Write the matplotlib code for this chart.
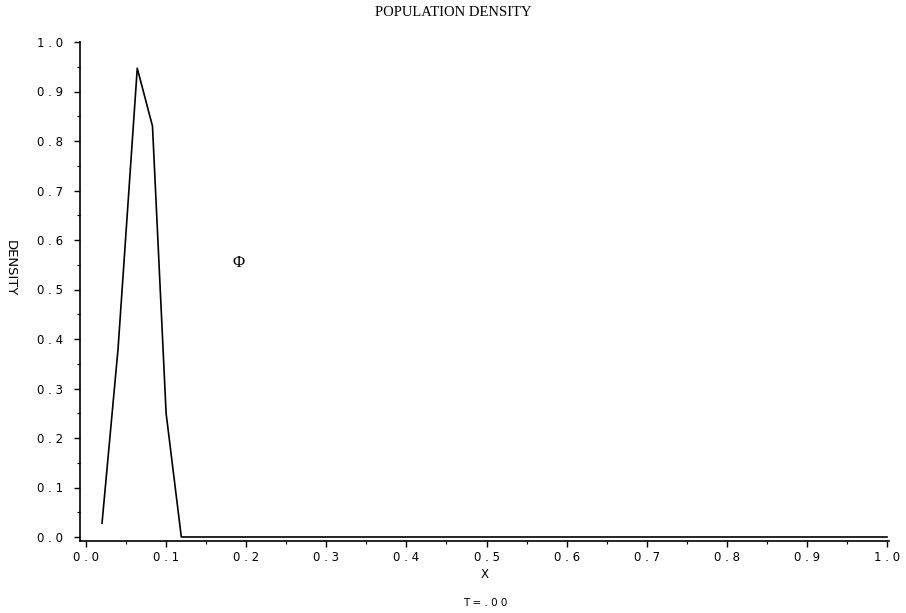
import matplotlib
matplotlib.use("Agg")
import matplotlib.pyplot as plt
from matplotlib.ticker import MultipleLocator

x_vals = [0.02, 0.04, 0.064, 0.083, 0.10, 0.119, 1.0]
density = [0.028, 0.38, 0.947, 0.83, 0.25, 0.0, 0.0]
x_ticks = [0.0, 0.1, 0.2, 0.3, 0.4, 0.5, 0.6, 0.7, 0.8, 0.9, 1.0]
y_ticks = [0.0, 0.1, 0.2, 0.3, 0.4, 0.5, 0.6, 0.7, 0.8, 0.9, 1.0]

def spaced(v):
    return " . ".join(f"{v:.1f}".split("."))

fig = plt.figure(figsize=(9.06, 6.13), dpi=100)
ax = fig.add_axes([80/906, (613-541)/613, (889-80)/906, (541-42)/613])
ax.plot(x_vals, density, color="black", lw=1.2)

ax.set_xlim(-6/801, 1 + 2/801)
ax.set_ylim(-4/495, 1.0)
for s in ["top", "right"]:
    ax.spines[s].set_visible(False)
for s in ["left", "bottom"]:
    ax.spines[s].set_linewidth(1.2)

ax.set_xticks(x_ticks)
ax.set_xticklabels([spaced(v) for v in x_ticks])
ax.set_yticks(y_ticks)
ax.set_yticklabels([spaced(v) for v in y_ticks])
ax.xaxis.set_minor_locator(MultipleLocator(0.05))
ax.yaxis.set_minor_locator(MultipleLocator(0.05))
ax.tick_params(which="major", direction="out", length=4, width=1, labelsize=8.5)
ax.tick_params(axis="x", which="major", pad=3)
ax.tick_params(axis="y", which="major", pad=8)
ax.tick_params(which="minor", direction="out", length=2.5, width=0.8)
for lab in ax.get_xticklabels() + ax.get_yticklabels():
    lab.set_family("DejaVu Sans")

fig.text(453/906, 1 - 12/613, "POPULATION DENSITY", ha="center", va="center",
         family="Liberation Serif", fontsize=10.5)
fig.text(485/906, 1 - 574/613, "X", ha="center", va="center", fontsize=8.5)
fig.text(485/906, 1 - 603/613, "T = . 0 0", ha="center", va="center", fontsize=7.5)
fig.text(10/906, 1 - 268/613, "DENSITY", ha="center", va="center", rotation=270, fontsize=9.5)
ax.text(0.19, 0.553, "\u03a6", ha="center", va="center", family="Liberation Serif", fontsize=12)

fig.savefig("out.png", dpi=100)
